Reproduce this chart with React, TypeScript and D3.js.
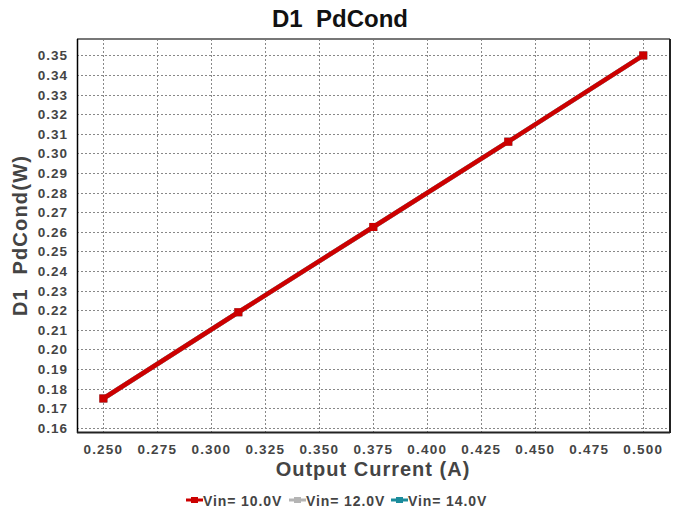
import React, { useRef, useEffect } from 'react';
import { select, scaleLinear, line } from 'd3';

const width = 678;
const height = 515;
const plot = { left: 77, top: 39, right: 670, bottom: 432 };

const current = [0.25, 0.3125, 0.375, 0.4375, 0.5];
const vin10 = [0.175, 0.219, 0.2625, 0.306, 0.35];
const vin12 = [0.175, 0.219, 0.2625, 0.306, 0.35];
const vin14 = [0.175, 0.219, 0.2625, 0.306, 0.35];
const seriesNames = ['Vin= 10.0V', 'Vin= 12.0V', 'Vin= 14.0V'];
const seriesColors = ['#cc0000', '#b4b4b4', '#1a8c9c'];
const xTicks = [0.25, 0.275, 0.3, 0.325, 0.35, 0.375, 0.4, 0.425, 0.45, 0.475, 0.5];
const yTicks = [0.16, 0.17, 0.18, 0.19, 0.2, 0.21, 0.22, 0.23, 0.24, 0.25, 0.26, 0.27, 0.28, 0.29, 0.3, 0.31, 0.32, 0.33, 0.34, 0.35];

const font = '"Liberation Sans", Arial, sans-serif';

const App = () => {
    const ref = useRef(null);

    useEffect(() => {
        const svg = select(ref.current);
        svg.selectAll('*').remove();

        const x = scaleLinear().domain([0.2378, 0.5124]).range([plot.left, plot.right]);
        const y = scaleLinear().domain([0.1579, 0.3584]).range([plot.bottom, plot.top]);

        svg.append('rect').attr('width', width).attr('height', height).attr('fill', '#fff');

        // grid
        const grid = svg.append('g').attr('stroke', '#888').attr('stroke-width', 1).attr('stroke-dasharray', '2,2');
        grid.selectAll('.gx').data(xTicks).join('line')
            .attr('x1', d => Math.round(x(d)) + 0.5).attr('x2', d => Math.round(x(d)) + 0.5)
            .attr('y1', plot.top).attr('y2', plot.bottom);
        grid.selectAll('.gy').data(yTicks).join('line')
            .attr('y1', d => Math.round(y(d)) + 0.5).attr('y2', d => Math.round(y(d)) + 0.5)
            .attr('x1', plot.left).attr('x2', plot.right);

        // border
        svg.append('line').attr('x1', plot.left).attr('x2', plot.right).attr('y1', plot.top).attr('y2', plot.top)
            .attr('stroke', '#777').attr('stroke-width', 2);
        svg.append('line').attr('x1', plot.right).attr('x2', plot.right).attr('y1', plot.top).attr('y2', plot.bottom + 1)
            .attr('stroke', '#222').attr('stroke-width', 2);
        svg.append('line').attr('x1', plot.left + 0.5).attr('x2', plot.left + 0.5).attr('y1', plot.top).attr('y2', plot.bottom + 1)
            .attr('stroke', '#000').attr('stroke-width', 1.5);
        svg.append('line').attr('x1', plot.left).attr('x2', plot.right).attr('y1', plot.bottom + 0.5).attr('y2', plot.bottom + 0.5)
            .attr('stroke', '#222').attr('stroke-width', 2);

        // tick labels
        svg.append('g').selectAll('text').data(xTicks).join('text')
            .attr('x', d => x(d)).attr('y', plot.bottom + 22)
            .attr('text-anchor', 'middle')
            .attr('font-family', font).attr('font-weight', 'bold').attr('font-size', 13.5)
            .attr('letter-spacing', 1.2).attr('fill', '#444')
            .text(d => d.toFixed(3));
        svg.append('g').selectAll('text').data(yTicks).join('text')
            .attr('x', plot.left - 9).attr('y', d => y(d) + 5)
            .attr('text-anchor', 'end')
            .attr('font-family', font).attr('font-weight', 'bold').attr('font-size', 13.5)
            .attr('letter-spacing', 1).attr('fill', '#444')
            .text(d => d.toFixed(2));

        // titles
        svg.append('text').attr('x', 340).attr('y', 27).attr('text-anchor', 'middle')
            .attr('font-family', font).attr('font-weight', 'bold').attr('font-size', 24).attr('fill', '#111')
            .text('D1\u00a0 PdCond');
        svg.append('text').attr('x', 373).attr('y', 476).attr('text-anchor', 'middle')
            .attr('font-family', font).attr('font-weight', 'bold').attr('font-size', 20).attr('fill', '#444')
            .attr('letter-spacing', 1)
            .text('Output Current (A)');
        svg.append('text').attr('transform', `translate(27, ${(plot.top + plot.bottom) / 2}) rotate(-90)`)
            .attr('text-anchor', 'middle')
            .attr('font-family', font).attr('font-weight', 'bold').attr('font-size', 20).attr('fill', '#444')
            .attr('letter-spacing', 1.2)
            .text('D1\u00a0 PdCond(W)');

        // series (red on top)
        const data = [vin10, vin12, vin14];
        const path = line<number>().x((d, i) => x(current[i])).y(d => y(d));
        [2, 1, 0].forEach(s => {
            const g = svg.append('g');
            g.append('path').attr('d', path(data[s])).attr('fill', 'none')
                .attr('stroke', seriesColors[s]).attr('stroke-width', 4.5);
            g.selectAll('rect').data(data[s]).join('rect')
                .attr('x', (d, i) => x(current[i]) - 4).attr('y', d => y(d) - 4)
                .attr('width', 8).attr('height', 8).attr('fill', seriesColors[s]);
        });

        // legend
        const legendX = [186, 289, 391];
        const legend = svg.append('g').selectAll('g').data(seriesNames).join('g')
            .attr('transform', (d, i) => `translate(${legendX[i]}, 500)`);
        legend.append('line').attr('x1', 0).attr('x2', 17).attr('y1', 0).attr('y2', 0)
            .attr('stroke', (d, i) => seriesColors[i]).attr('stroke-width', 3);
        legend.append('rect').attr('x', 5).attr('y', -3).attr('width', 7).attr('height', 6)
            .attr('fill', (d, i) => seriesColors[i]);
        legend.append('text').attr('x', 17).attr('y', 6)
            .attr('font-family', font).attr('font-weight', 'bold').attr('font-size', 14)
            .attr('letter-spacing', 0.9).attr('fill', '#444')
            .text(d => d);
    }, []);

    return (
        <svg ref={ref} width={width} height={height}
            style={{ position: 'absolute', left: 0, top: 0, display: 'block' }}></svg>
    );
};

export default App;
